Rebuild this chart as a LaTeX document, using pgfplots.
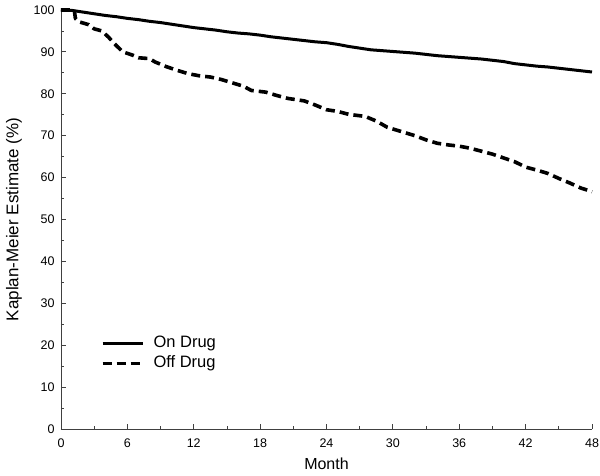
\documentclass[border=0pt]{standalone}
\usepackage{fontspec}
\setmainfont{Liberation Sans}
\usepackage{pgfplots}
\pgfplotsset{compat=1.18}
\newcommand{\legfont}{\fontsize{16.5}{19}\selectfont}
\begin{document}
\begin{tikzpicture}
\begin{axis}[
  scale only axis, width=531pt, height=419pt,
  xmin=0, xmax=48, ymin=0, ymax=100,
  axis lines*=left,
  axis line style={draw=black!75, line width=0.9pt},
  xtick={0,6,...,48}, ytick={0,10,...,100},
  minor xtick={3,9,...,45}, minor ytick={5,15,...,95},
  tick align=inside,
  major tick length=5pt, minor tick length=3pt,
  tick style={draw=black!75, line width=0.8pt},
  /pgf/number format/assume math mode=true,
  ticklabel style={font=\fontsize{12.5}{14}\selectfont},
  xticklabel style={yshift=-6pt},
  yticklabel style={xshift=-3pt},
  xlabel={Month}, ylabel={Kaplan-Meier Estimate (\%)},
  xlabel style={font=\fontsize{16}{18}\selectfont, at={(axis description cs:0.5,-0.0835)}, anchor=center},
  ylabel style={font=\fontsize{17}{19}\selectfont, at={(axis description cs:-0.0885,0.5)}, anchor=center},
  clip=false,
  legend style={at={(axis cs:3.59,22.4)}, anchor=north west, draw=none, fill=none,
    font=\legfont, row sep=5pt, inner sep=0pt,
    nodes={inner sep=0pt, text height=12pt, text depth=3.5pt}},
  legend cell align=left,
  legend image code/.code={\draw[#1] (0pt,0pt) -- (40pt,0pt); \path (49pt,0pt);},
]
\addplot[black, line width=3pt, line join=round] coordinates {
(0,100) (1,99.9) (2,99.5) (3,99.1) (4,98.7) (5,98.4) (6,98.0) (7,97.7) (8,97.3) (9,97.0)
(10,96.6) (11,96.2) (12,95.8) (13,95.5) (14,95.2) (15,94.8) (16,94.5) (17,94.3) (18,94.0)
(19,93.6) (20,93.3) (21,93.0) (22,92.7) (23,92.4) (24,92.2) (25,91.8) (26,91.3) (27,90.9)
(28,90.5) (29,90.3) (30,90.1) (31,89.9) (32,89.7) (33,89.4) (34,89.1) (35,88.9) (36,88.7)
(37,88.5) (38,88.3) (39,88.0) (40,87.7) (41,87.2) (42,86.9) (43,86.6) (44,86.4) (45,86.1)
(46,85.8) (47,85.5) (48,85.2)
};
\addlegendentry{\legfont On Drug}
\addplot[black, line width=3.6pt, dash pattern=on 9pt off 5pt, line join=round] coordinates {
(0,100) (1.2,100) (1.3,98) (1.6,97.2) (2.5,96.5) (3,95.5) (3.7,95.0) (4.3,93.5) (5,91.5)
(5.6,90) (6.5,89.2) (7,88.6) (8,88.4) (8.5,87.6) (9.5,86.5) (10.5,85.6) (11.5,84.8)
(12.5,84.3) (13.5,84.0) (14.5,83.4) (15.5,82.6) (16.5,81.8) (17.2,80.8) (18.5,80.4)
(19.5,79.6) (20.5,78.9) (22,78.3) (23,77.3) (24,76.2) (25,75.8) (26,75.1) (27.5,74.6)
(28.5,73.5) (29.5,72.0) (31,70.8) (32,70.0) (33,69.0) (34,68.2) (35,67.8) (36,67.5)
(37,67.0) (38,66.3) (39,65.6) (40,64.7) (41,63.8) (42,62.5) (43,61.8) (44,61.0) (45,59.8)
(46,58.7) (47,57.5) (47.6,57.0) (48,56.6)
};
\addlegendentry{\legfont Off Drug}
\end{axis}
\pgfresetboundingbox
\path[use as bounding box] (-61pt,-47pt) rectangle (539pt,429pt);
\end{tikzpicture}
\end{document}
